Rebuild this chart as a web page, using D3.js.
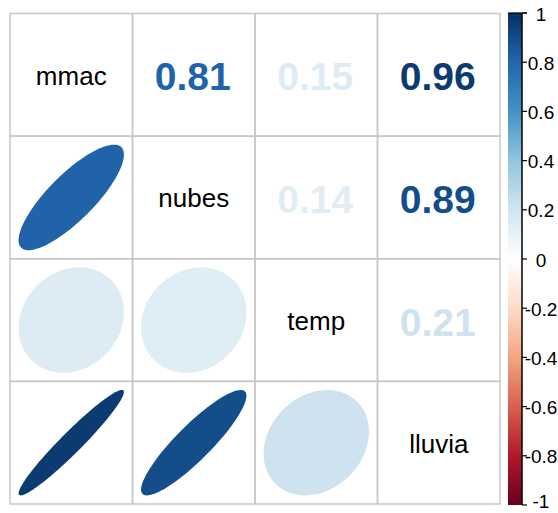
<!DOCTYPE html>
<html>
<head>
<meta charset="utf-8">
<script src="https://cdn.jsdelivr.net/npm/d3@7"></script>
<style>
  html, body { margin: 0; padding: 0; background: #fff; }
  svg { display: block; }
</style>
</head>
<body>
<svg id="chart" width="558" height="513"></svg>
<script>
const variables = ["mmac", "nubes", "temp", "lluvia"];
const corrMmac   = [1, 0.81, 0.15, 0.96];
const corrNubes  = [0.81, 1, 0.14, 0.89];
const corrTemp   = [0.15, 0.14, 1, 0.21];
const corrLluvia = [0.96, 0.89, 0.21, 1];
const corrRows = [corrMmac, corrNubes, corrTemp, corrLluvia];
const paletteColors = ["#67001F", "#B2182B", "#D6604D", "#F4A582", "#FDDBC7", "#FFFFFF",
                       "#D1E5F0", "#92C5DE", "#4393C3", "#2166AC", "#053061"];
const legendTicks = [1, 0.8, 0.6, 0.4, 0.2, 0, -0.2, -0.4, -0.6, -0.8, -1];
const legendLabels = ["1", "0.8", "0.6", "0.4", "0.2", "0", "-0.2", "-0.4", "-0.6", "-0.8", "-1"];

const svg = d3.select("#chart");
const x = d3.scaleBand().domain(variables).range([10, 500]);
const y = d3.scaleBand().domain(variables).range([13.5, 504]);
const color = d3.scaleLinear()
  .domain(d3.range(paletteColors.length).map(i => -1 + 2 * i / (paletteColors.length - 1)))
  .range(paletteColors)
  .interpolate(d3.interpolateRgb);

const cells = [];
corrRows.forEach((row, i) => row.forEach((v, j) => cells.push({ r: variables[i], c: variables[j], i, j, v })));

const bw = x.bandwidth(), bh = y.bandwidth();

// ellipses (lower triangle)
function ellipsePath(d) {
  const cx = x(d.c) + bw / 2, cy = y(d.r) + bh / 2;
  const a = Math.acos(d.v) / 2;
  const pts = d3.range(0, 100).map(t => {
    const k = 2 * Math.PI * t / 99;
    return [cx + 0.86 * Math.cos(k + a) / 2 * bw, cy - 0.86 * Math.cos(k - a) / 2 * bh];
  });
  return d3.line()(pts) + "Z";
}
svg.append("g").selectAll("path")
  .data(cells.filter(d => d.i > d.j))
  .join("path")
  .attr("d", ellipsePath)
  .attr("fill", d => color(d.v));

// grid
svg.append("g").selectAll("rect")
  .data(cells)
  .join("rect")
  .attr("x", d => x(d.c)).attr("y", d => y(d.r))
  .attr("width", bw).attr("height", bh)
  .attr("fill", "none").attr("stroke", "#c8c8c8").attr("stroke-width", 1.5);

// diagonal labels
svg.append("g").selectAll("text")
  .data(cells.filter(d => d.i === d.j))
  .join("text")
  .attr("x", d => x(d.c) + bw / 2).attr("y", d => y(d.r) + bh / 2 + 1)
  .attr("text-anchor", "middle").attr("dominant-baseline", "central")
  .attr("font-family", "Liberation Sans, Arial, sans-serif").attr("font-size", 26)
  .attr("fill", "#000").text(d => d.r);

// numbers (upper triangle)
svg.append("g").selectAll("text")
  .data(cells.filter(d => d.i < d.j))
  .join("text")
  .attr("x", d => x(d.c) + bw / 2 - 1).attr("y", d => y(d.r) + bh / 2 + 2)
  .attr("text-anchor", "middle").attr("dominant-baseline", "central")
  .attr("font-family", "Liberation Sans, Arial, sans-serif").attr("font-weight", "bold").attr("font-size", 39)
  .attr("fill", d => color(d.v)).text(d => d3.format(".2f")(d.v));

// color legend
const ly = d3.scaleLinear().domain([-1, 1]).range([505, 13]);
const defs = svg.append("defs");
const grad = defs.append("linearGradient").attr("id", "cbar")
  .attr("x1", 0).attr("y1", 1).attr("x2", 0).attr("y2", 0);
paletteColors.forEach((c, i) => grad.append("stop")
  .attr("offset", i / (paletteColors.length - 1)).attr("stop-color", c));
const barX0 = 508, barX1 = 522;
svg.append("rect").attr("x", barX0).attr("y", ly(1)).attr("width", barX1 - barX0)
  .attr("height", ly(-1) - ly(1)).attr("fill", "url(#cbar)");
svg.append("line").attr("x1", barX1).attr("x2", barX1).attr("y1", ly(1)).attr("y2", ly(-1))
  .attr("stroke", "#000").attr("stroke-width", 1.5);
svg.append("line").attr("x1", barX0).attr("x2", barX1 + 5).attr("y1", ly(1)).attr("y2", ly(1))
  .attr("stroke", "#000").attr("stroke-width", 1.2);
const lg = svg.append("g");
lg.selectAll("line.tick").data(legendTicks).join("line").attr("class", "tick")
  .attr("x1", barX1).attr("x2", barX1 + 5)
  .attr("y1", d => ly(d)).attr("y2", d => ly(d))
  .attr("stroke", "#000").attr("stroke-width", 1.2);
lg.selectAll("text").data(legendTicks).join("text")
  .attr("x", 541).attr("y", d => Math.min(ly(d) + 1, 501))
  .attr("text-anchor", "middle").attr("dominant-baseline", "central")
  .attr("font-family", "Liberation Sans, Arial, sans-serif").attr("font-size", 19)
  .attr("fill", "#000").text((d, i) => legendLabels[i]);
</script>
</body>
</html>
